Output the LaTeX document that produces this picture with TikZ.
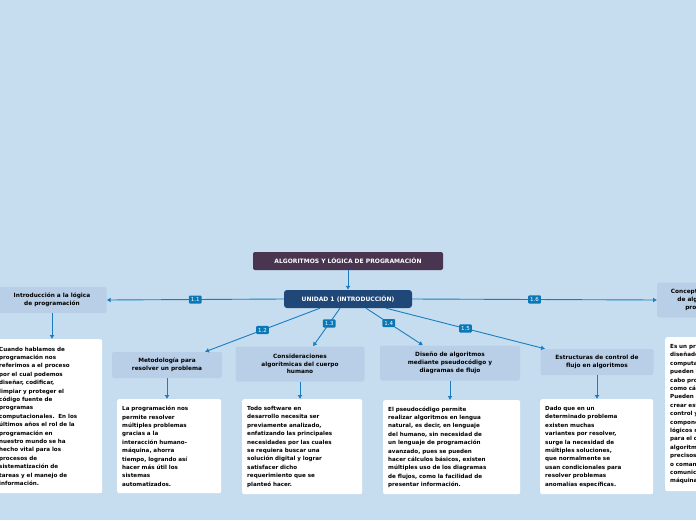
\documentclass[tikz,border=0pt]{standalone}
\usepackage{fontspec}
\setmainfont{DejaVu Sans}
\usetikzlibrary{positioning}
\definecolor{bgblue}{HTML}{C6DDF0}
\definecolor{topic}{HTML}{B9CFE8}
\definecolor{rootc}{HTML}{4A3550}
\definecolor{unitc}{HTML}{1F4778}
\definecolor{linec}{HTML}{1A7DC0}
\definecolor{tagc}{HTML}{0C77B7}
\tikzset{
  topicbox/.style={fill=topic, rounded corners=2pt, align=center, font=\bfseries\fontsize{5.8}{7.8}\selectfont, inner sep=3pt},
  textbox/.style={fill=white, rounded corners=2pt, align=left, font=\bfseries\fontsize{5.6}{8.4}\selectfont, inner sep=5pt, anchor=north west},
  tag/.style={fill=tagc, text=white, font=\fontsize{5.5}{6}\selectfont, inner sep=2pt, rounded corners=1pt},
  conn/.style={draw=linec, line width=0.9pt, -{Latex[length=4pt,width=5pt]}},
}
\usetikzlibrary{arrows.meta}
\begin{document}
\begin{tikzpicture}[x=1pt,y=-1pt]
  \fill[bgblue] (0,0) rectangle (696,520);
  \clip (0,0) rectangle (696,520);

  \node[fill=rootc, text=white, rounded corners=2pt, minimum width=190pt, minimum height=18pt, font=\bfseries\fontsize{6}{7}\selectfont] (root) at (348,261) {ALGORITMOS Y LÓGICA DE PROGRAMACIÓN};
  \node[fill=unitc, text=white, rounded corners=3pt, minimum width=128pt, minimum height=18pt, font=\bfseries\fontsize{6}{7}\selectfont] (unit) at (348,299) {UNIDAD 1 (INTRODUCCIÓN)};

  % temas
  \node[topicbox, minimum width=109pt, minimum height=26pt] (t1) at (52,300) {Introducción a la lógica\\de programación};
  \node[topicbox, minimum width=110pt, minimum height=26pt] (t2) at (167,365) {Metodología para\\resolver un problema};
  \node[topicbox, minimum width=129pt, minimum height=35pt] (t3) at (300,364) {Consideraciones\\algorítmicas del cuerpo\\humano};
  \node[topicbox, minimum width=140pt, minimum height=35pt] (t4) at (450,363) {Diseño de algoritmos\\mediante pseudocódigo y\\diagramas de flujo};
  \node[topicbox, minimum width=113pt, minimum height=26pt] (t5) at (597,362) {Estructuras de control de\\flujo en algoritmos};
  \node[topicbox, minimum width=88pt, minimum height=35pt, anchor=west] (t6) at (657,300) {Conceptos básicos\\de algoritmo y\\programa};

  % textos
  \node[textbox, text width=98pt, minimum height=154pt] (d1) at (-6,339) {Cuando hablamos de\\programación nos\\referimos a el proceso\\por el cual podemos\\diseñar, codificar,\\limpiar y proteger el\\código fuente de\\programas\\computacionales.\ \ En los\\últimos años el rol de la\\programación en\\nuestro mundo se ha\\hecho vital para los\\procesos de\\sistematización de\\tareas y el manejo de\\información.};
  \node[textbox, text width=94pt, minimum height=94pt] (d2) at (117,399) {La programación nos\\permite resolver\\múltiples problemas\\gracias a la\\interacción humano-\\máquina, ahorra\\tiempo, logrando así\\hacer más útil los\\sistemas\\automatizados.};
  \node[textbox, text width=110pt, minimum height=95pt] (d3) at (242,399) {Todo software en\\desarrollo necesita ser\\previamente analizado,\\enfatizando las principales\\necesidades por las cuales\\se requiera buscar una\\solución digital y lograr\\satisfacer dicho\\requerimiento que se\\planteó hacer.};
  \node[textbox, text width=127pt, minimum height=94pt] (d4) at (383,400) {El pseudocódigo permite\\realizar algoritmos en lengua\\natural, es decir, en lenguaje\\del humano, sin necesidad de\\un lenguaje de programación\\avanzado, pues se pueden\\hacer cálculos básicos, existen\\múltiples uso de los diagramas\\de flujos, como la facilidad de\\presentar información.};
  \node[textbox, text width=103pt, minimum height=95pt] (d5) at (540,399) {Dado que en un\\determinado problema\\existen muchas\\variantes por resolver,\\surge la necesidad de\\múltiples soluciones,\\que normalmente se\\usan condicionales para\\resolver problemas\\anomalías específicas.};
  \node[textbox, text width=100pt, minimum height=154pt] (d6) at (665,337) {Es un proceso\\diseñado para\\computadoras que\\pueden llevar a\\cabo procesos\\como cálculos.\\Pueden además\\crear estructuras de\\control y\\componentes\\lógicos necesarios\\para el diseño de\\algoritmos\\precisos\\o comandos de\\comunicación con la\\máquina.};

  % conectores
  \draw[conn] (root) -- (unit);
  \draw[conn] (unit.west) -- node[tag] {1.1} (t1.east);
  \draw[conn] ([xshift=-28pt]unit.south) -- node[tag, pos=0.5] {1.2} ([xshift=38pt]t2.north);
  \draw[conn] ([xshift=-8pt]unit.south) -- node[tag, pos=0.4] {1.3} ([xshift=13pt]t3.north);
  \draw[conn] ([xshift=18pt]unit.south) -- node[tag, pos=0.4] {1.4} ([xshift=-27pt]t4.north);
  \draw[conn] ([xshift=38pt]unit.south) -- node[tag, pos=0.5] {1.5} ([xshift=-52pt]t5.north);
  \draw[conn] (unit.east) -- node[tag] {1.6} (t6.west);
  \foreach \i in {1,...,6} {
    \draw[conn] (t\i.south) -- (d\i.north -| t\i.south);
  }
\end{tikzpicture}
\end{document}
